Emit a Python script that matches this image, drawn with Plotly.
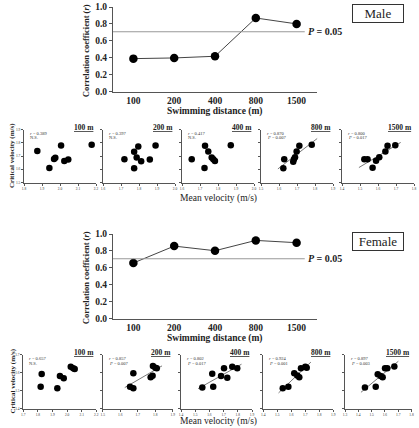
import numpy as np
import plotly.graph_objects as go

W, H = 419, 428
def fx(x): return x / W
def fy(y): return 1 - y / H

FONT = "Liberation Serif"

# ---------------- data ----------------
distances = ["100", "200", "400", "800", "1500"]
male_r = [0.389, 0.397, 0.417, 0.870, 0.800]
female_r = [0.657, 0.857, 0.802, 0.924, 0.897]
p_threshold = 0.707
y_ticks_main = [0.0, 0.2, 0.4, 0.6, 0.8, 1.0]

panel_titles = ["100 m", "200 m", "400 m", "800 m", "1500 m"]

male_100_x = [1.874, 1.941, 1.967, 1.974, 2.006, 2.024, 2.046, 2.176]
male_100_y = [1.738, 1.610, 1.677, 1.687, 1.779, 1.662, 1.674, 1.785]
male_200_x = [1.719, 1.773, 1.773, 1.787, 1.796, 1.812, 1.860, 1.892]
male_200_y = [1.676, 1.732, 1.607, 1.688, 1.772, 1.660, 1.673, 1.780]
male_400_x = [1.654, 1.728, 1.725, 1.746, 1.765, 1.774, 1.783, 1.871]
male_400_y = [1.676, 1.777, 1.609, 1.734, 1.688, 1.676, 1.663, 1.782]
male_800_x = [1.624, 1.629, 1.679, 1.683, 1.689, 1.698, 1.713, 1.782]
male_800_y = [1.607, 1.676, 1.657, 1.676, 1.691, 1.734, 1.777, 1.785]
male_1500_x = [1.524, 1.542, 1.570, 1.589, 1.607, 1.641, 1.653, 1.696]
male_1500_y = [1.676, 1.676, 1.612, 1.665, 1.691, 1.734, 1.777, 1.782]

male_r_text = ["0.389", "0.397", "0.417", "0.870", "0.800"]
male_p_text = ["N.S.", "N.S.", "N.S.", "P = 0.007", "P = 0.017"]
male_x_ranges = [(1.8, 2.2), (1.6, 2.0), (1.6, 2.0), (1.5, 1.9), (1.4, 1.8)]
male_y_range = (1.5, 1.9)

female_100_x = [1.819, 1.826, 1.933, 1.951, 1.977, 2.025, 2.042, 2.052]
female_100_y = [1.521, 1.592, 1.512, 1.581, 1.568, 1.632, 1.623, 1.619]
female_200_x = [1.656, 1.675, 1.675, 1.774, 1.785, 1.787, 1.801, 1.809]
female_200_y = [1.521, 1.596, 1.512, 1.573, 1.582, 1.636, 1.627, 1.623]
female_400_x = [1.550, 1.620, 1.627, 1.682, 1.703, 1.726, 1.761, 1.796]
female_400_y = [1.516, 1.593, 1.521, 1.581, 1.623, 1.571, 1.632, 1.623]
female_800_x = [1.539, 1.579, 1.621, 1.643, 1.657, 1.669, 1.700, 1.710]
female_800_y = [1.512, 1.521, 1.596, 1.584, 1.573, 1.623, 1.632, 1.627]
female_1500_x = [1.450, 1.531, 1.546, 1.568, 1.583, 1.601, 1.618, 1.671]
female_1500_y = [1.516, 1.521, 1.590, 1.581, 1.573, 1.623, 1.623, 1.634]

female_r_text = ["0.657", "0.857", "0.802", "0.924", "0.897"]
female_p_text = ["N.S.", "P = 0.007", "P = 0.017", "P = 0.001", "P = 0.003"]
female_x_ranges = [(1.7, 2.2), (1.5, 1.9), (1.4, 1.9), (1.4, 1.9), (1.3, 1.8)]
female_y_range = (1.4, 1.7)

male_sets = [(male_100_x, male_100_y), (male_200_x, male_200_y), (male_400_x, male_400_y),
             (male_800_x, male_800_y), (male_1500_x, male_1500_y)]
female_sets = [(female_100_x, female_100_y), (female_200_x, female_200_y), (female_400_x, female_400_y),
               (female_800_x, female_800_y), (female_1500_x, female_1500_y)]

# ---------------- layout geometry (pixels) ----------------
main_x_dom = (113, 317)
male_main_y = (7, 91.5)
female_main_y = (234, 318.5)
male_sc_x = [(24, 96), (103, 175), (182, 254), (261, 333), (342, 414)]
male_sc_y = (129.5, 182.5)
female_sc_x = [(23.3, 96.3), (102.7, 172.7), (181, 252), (263.3, 333.3), (345, 411.5)]
female_sc_y = (354.5, 408.5)

AXC = "#555555"
fig = go.Figure()
layout = dict(width=W, height=H, margin=dict(l=0, r=0, t=0, b=0, autoexpand=False),
              paper_bgcolor="white", plot_bgcolor="white", showlegend=False,
              font=dict(family=FONT, color="black"))
annotations = []
shapes = []

def ann(**kw):
    kw.setdefault("showarrow", False)
    kw.setdefault("xanchor", "center")
    kw.setdefault("yanchor", "middle")
    annotations.append(kw)

def axname(i):
    return ("xaxis", "yaxis") if i == 1 else (f"xaxis{i}", f"yaxis{i}")

def refs(i):
    return ("x", "y") if i == 1 else (f"x{i}", f"y{i}")

def main_chart(idx, rvals, ydom, label):
    xa, ya = axname(idx)
    xr, yr = refs(idx)
    layout[xa] = dict(domain=[fx(main_x_dom[0]), fx(main_x_dom[1])], anchor=yr,
                      type="category", range=[-0.5, 4.5], showline=True, linecolor=AXC,
                      linewidth=1, ticks="", showgrid=False, zeroline=False,
                      tickfont=dict(size=9.5, family=FONT, color="#222"),
                      tickvals=distances, ticktext=[f"<b>{d}</b>" for d in distances])
    layout[ya] = dict(domain=[fy(ydom[1]), fy(ydom[0])], anchor=xr, range=[0, 1.0],
                      showline=True, linecolor=AXC, linewidth=1, ticks="outside", ticklen=3,
                      tickcolor=AXC, showgrid=False, zeroline=False,
                      tickvals=y_ticks_main, ticktext=[f"<b>{v:.1f}</b>" for v in y_ticks_main],
                      tickfont=dict(size=9.5, family=FONT, color="#222"))
    fig.add_trace(go.Scatter(x=distances, y=rvals, mode="lines+markers", xaxis=xr, yaxis=yr,
                             line=dict(color="#444", width=1),
                             marker=dict(size=8.5, color="black"), cliponaxis=False))
    shapes.append(dict(type="line", xref=f"{xr} domain", yref=yr, x0=0, x1=0.94,
                       y0=p_threshold, y1=p_threshold, line=dict(color="#999", width=1)))
    ann(xref=f"{xr} domain", yref=yr, x=0.945, y=p_threshold, xanchor="left",
        text="<b><i>P</i> = 0.05</b>", font=dict(size=10, family=FONT, color="#222"))
    ann(xref="paper", yref="paper", x=fx(86), y=fy((ydom[0] + ydom[1]) / 2 + 2),
        text="<b>Correlation coefficient (<i>r</i>)</b>", textangle=-90,
        font=dict(size=8.5, family=FONT, color="#222"))
    ann(xref="paper", yref="paper", x=fx(215), y=fy(ydom[1] + 20),
        text="<b>Swimming distance (m)</b>", font=dict(size=9.5, family=FONT, color="#222"))
    ann(xref="paper", yref="paper", x=fx(377.5), y=fy(ydom[0] + 7),
        text=label, bordercolor="#333", borderwidth=1, borderpad=1, width=48,
        font=dict(size=13, family=FONT, color="#222"))

def scatter_row(start_idx, sets, xranges, yrange, xdoms, ydom, rtexts, ptexts, ystep, fit_flags, title_off):
    for k in range(5):
        idx = start_idx + k
        xa, ya = axname(idx)
        xr, yr = refs(idx)
        lo, hi = xranges[k]
        layout[xa] = dict(domain=[fx(xdoms[k][0]), fx(xdoms[k][1])], anchor=yr, range=[lo, hi],
                          dtick=0.1, tick0=lo, tickformat=".1f", showline=True, linecolor=AXC,
                          linewidth=1, ticks="outside", ticklen=2, tickcolor=AXC,
                          showgrid=False, zeroline=False,
                          tickfont=dict(size=3.5, family=FONT, color="#333"))
        layout[ya] = dict(domain=[fy(ydom[1]), fy(ydom[0])], anchor=xr, range=list(yrange),
                          dtick=0.1, tick0=yrange[0], tickformat=".1f", showline=True,
                          linecolor=AXC, linewidth=1, ticks="outside", ticklen=2, tickcolor=AXC,
                          showgrid=False, zeroline=False, showticklabels=(k == 0),
                          tickfont=dict(size=3.5, family=FONT, color="#333"))
        xs, ys = sets[k]
        if fit_flags[k]:
            m, b = np.polyfit(xs, ys, 1)
            x0, x1 = min(xs) - 0.03, max(xs) + 0.03
            fig.add_trace(go.Scatter(x=[x0, x1], y=[m * x0 + b, m * x1 + b], mode="lines",
                                     xaxis=xr, yaxis=yr, line=dict(color="#555", width=0.8)))
        fig.add_trace(go.Scatter(x=xs, y=ys, mode="markers", xaxis=xr, yaxis=yr,
                                 marker=dict(size=6.5, color="black"), cliponaxis=False))
        ann(xref=f"{xr} domain", yref="paper", x=1.0, y=fy(ydom[0] - 2), xanchor="right",
            text=f"<b><u>{panel_titles[k]}</u></b>", font=dict(size=7.5, family=FONT, color="#222"))
        ann(xref="paper", yref="paper", x=fx(xdoms[k][0] + 4), y=fy(ydom[0] + 4), xanchor="left",
            text=f"<i>r</i> = {rtexts[k]}", font=dict(size=4.5, family=FONT, color="#333"))
        pt = ptexts[k].replace("P", "<i>P</i>")
        ann(xref="paper", yref="paper", x=fx(xdoms[k][0] + 4), y=fy(ydom[0] + ystep), xanchor="left",
            text=pt, font=dict(size=4.5, family=FONT, color="#333"))
    ann(xref="paper", yref="paper", x=fx(12), y=fy((ydom[0] + ydom[1]) / 2),
        text="<b>Critical velocity (m/s)</b>", textangle=-90,
        font=dict(size=7, family=FONT, color="#222"))
    ann(xref="paper", yref="paper", x=fx(218), y=fy(ydom[1] + title_off),
        text="Mean velocity (m/s)", font=dict(size=9.5, family=FONT, color="#222"))

main_chart(1, male_r, male_main_y, "Male")
scatter_row(2, male_sets, male_x_ranges, male_y_range, male_sc_x, male_sc_y,
            male_r_text, male_p_text, 8, [False, False, False, True, True], 16)
main_chart(7, female_r, female_main_y, "Female")
scatter_row(8, female_sets, female_x_ranges, female_y_range, female_sc_x, female_sc_y,
            female_r_text, female_p_text, 9, [False, True, True, True, True], 12.5)

layout["annotations"] = annotations
layout["shapes"] = shapes
fig.update_layout(**layout)
fig.write_html("out.html")
